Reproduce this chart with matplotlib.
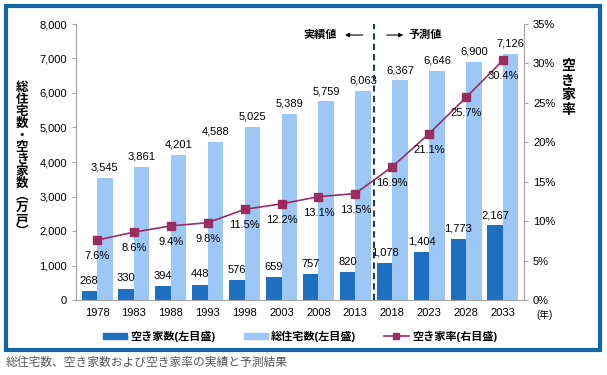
import matplotlib.pyplot as plt
from matplotlib.patches import Rectangle
from matplotlib.lines import Line2D
from matplotlib.patches import Patch
import numpy as np

plt.rcParams["font.family"] = ["Liberation Sans", "Noto Sans CJK JP"]

years = ["1978", "1983", "1988", "1993", "1998", "2003",
         "2008", "2013", "2018", "2023", "2028", "2033"]
total_houses = [3545, 3861, 4201, 4588, 5025, 5389,
                5759, 6063, 6367, 6646, 6900, 7126]
vacant_houses = [268, 330, 394, 448, 576, 659,
                 757, 820, 1078, 1404, 1773, 2167]
vacancy_rate = [7.6, 8.6, 9.4, 9.8, 11.5, 12.2,
                13.1, 13.5, 16.9, 21.1, 25.7, 30.4]

dark = "#1f6fc1"
light = "#9dc8f5"
wine = "#9a2c62"
axis_gray = "#a6a6a6"

fig = plt.figure(figsize=(6.07, 3.75), dpi=100)
ax = fig.add_axes([76 / 607, 1 - 300 / 375, (524 - 76) / 607, 276 / 375])
ax2 = ax.twinx()

x = np.arange(len(years))
w = 0.42
ax.bar(x - w / 2, vacant_houses, w, color=dark, zorder=2)
ax.bar(x + w / 2, total_houses, w, color=light, zorder=2)
for i in x:
    ax.text(i + w / 2, total_houses[i] + 150, f"{total_houses[i]:,}",
            ha="center", va="bottom", fontsize=8)
    ax.text(i - w / 2, vacant_houses[i] + 150, f"{vacant_houses[i]:,}",
            ha="center", va="bottom", fontsize=8)

ax2.plot(x, vacancy_rate, color=wine, lw=1.2, marker="s",
         markersize=6, markerfacecolor=wine, markeredgecolor=wine, zorder=3)
for i in x:
    ax2.text(i, vacancy_rate[i] - 1.4, f"{vacancy_rate[i]}%",
             ha="center", va="top", fontsize=8)

ax.set_xlim(-0.57, 11.57)
ax.set_ylim(0, 8000)
ax.set_yticks(range(0, 8001, 1000))
ax.set_yticklabels([f"{v:,}" for v in range(0, 8001, 1000)])
ax2.set_ylim(0, 35)
ax2.set_yticks(range(0, 36, 5))
ax2.set_yticklabels([f"{v}%" for v in range(0, 36, 5)])
ax.set_xticks(x)
ax.set_xticklabels(years)

for a in (ax, ax2):
    a.spines["top"].set_visible(False)
    for s in ("left", "right", "bottom"):
        a.spines[s].set_color(axis_gray)
    a.tick_params(labelsize=8, color=axis_gray, length=3)
ax.tick_params(axis="x", length=0, pad=6)
ax.set_zorder(ax2.get_zorder() - 1)
ax2.patch.set_visible(False)

ax.axvline(7.5, color="#1f3864", ls=(0, (3, 2)), lw=1.5, zorder=4)

# 実績値 ←  ¦  → 予測値
ax.text(6.5, 7680, "実績値", ha="right", va="center", fontsize=8,
        fontweight="bold")
ax.annotate("", xy=(6.72, 7680), xytext=(7.2, 7680),
            arrowprops=dict(arrowstyle="-|>", color="black", lw=0.8,
                            mutation_scale=6, shrinkA=0, shrinkB=0))
ax.annotate("", xy=(8.3, 7680), xytext=(7.85, 7680),
            arrowprops=dict(arrowstyle="-|>", color="black", lw=0.8,
                            mutation_scale=6, shrinkA=0, shrinkB=0))
ax.text(8.45, 7680, "予測値", ha="left", va="center", fontsize=8,
        fontweight="bold")
ax.text(11.9, -430, "(年)", ha="left", va="center", fontsize=7)

fig.text(22 / 607, 1 - 160 / 375,
         "\n".join("総住宅数・空き家数︵万戸︶"),
         ha="center", va="center", fontsize=9, fontweight="bold",
         linespacing=1.0)
fig.text(568 / 607, 1 - 88 / 375, "\n".join("空き家率"),
         ha="center", va="center", fontsize=10, fontweight="bold",
         linespacing=1.05)

handles = [Patch(color=dark), Patch(color=light),
           Line2D([0], [0], color=wine, marker="s", markersize=5, lw=1.2)]
labels = ["空き家数(左目盛)", "総住宅数(左目盛)", "空き家率(右目盛)"]
leg = fig.legend(handles, labels, loc="center", ncol=3, frameon=False,
                 bbox_to_anchor=(300 / 607, 1 - 336 / 375),
                 prop=dict(size=8, weight="bold"), handlelength=2.2,
                 handleheight=0.4, columnspacing=2.5, handletextpad=0.3)

fig.patches.append(Rectangle((6 / 607, 1 - 350 / 375), 594 / 607, 344 / 375,
                             transform=fig.transFigure, fill=False,
                             edgecolor="#1565a0", lw=3))
fig.text(6 / 607, 1 - 363 / 375, "総住宅数、空き家数および空き家率の実績と予測結果",
         ha="left", va="center", fontsize=8.5, color="#555555")

fig.savefig("out.png", dpi=100)
